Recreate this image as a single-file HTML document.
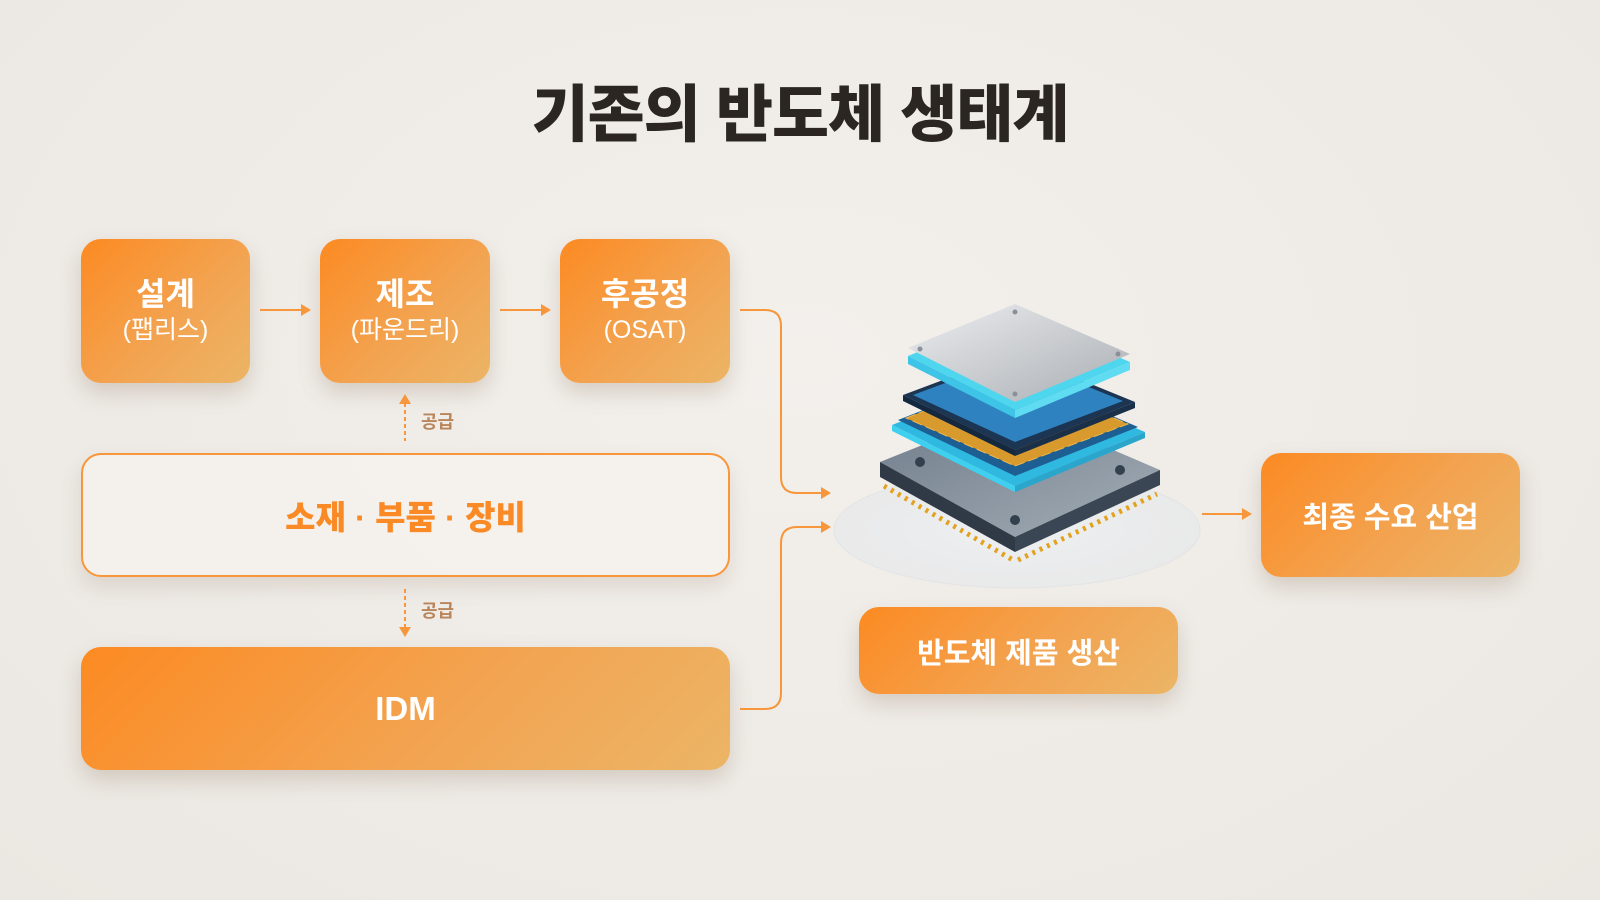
<!DOCTYPE html>
<html><head><meta charset="utf-8"><style>
body{margin:0;width:1600px;height:900px;overflow:hidden;background:radial-gradient(ellipse at 50% 40%,#f3f0ec,#ebe7e2);font-family:"Liberation Sans","Noto Sans CJK KR",sans-serif;position:relative}
.t{position:absolute;left:0;width:1600px;top:64px;text-align:center;font-size:62px;font-weight:900;color:#2b2622;letter-spacing:-1px}
.b{position:absolute;border-radius:20px;background:linear-gradient(135deg,#fc8a22 0%,#f3a350 55%,#ebb566 100%);color:#fff;display:flex;flex-direction:column;align-items:center;justify-content:center;box-shadow:0 10px 22px rgba(120,90,60,.22);font-weight:700}
.big{font-size:32px;line-height:38px}
.sm{font-size:25px;font-weight:400;line-height:34px}
.o{position:absolute;left:81px;top:453px;width:645px;height:120px;border:2px solid #f7963a;border-radius:20px;background:rgba(246,243,240,.7);display:flex;align-items:center;justify-content:center;color:#f98a25;font-size:33px;font-weight:800;box-shadow:0 10px 20px rgba(120,90,60,.15)}
.lbl{position:absolute;font-size:18px;color:#b9855a;font-weight:700}
</style></head><body>
<div class="t">기존의 반도체 생태계</div>
<div class="b" style="left:81px;top:239px;width:169px;height:144px"><div class="big">설계</div><div class="sm">(팹리스)</div></div>
<div class="b" style="left:320px;top:239px;width:170px;height:144px"><div class="big">제조</div><div class="sm">(파운드리)</div></div>
<div class="b" style="left:560px;top:239px;width:170px;height:144px"><div class="big">후공정</div><div class="sm">(OSAT)</div></div>
<div class="o">소재 · 부품 · 장비</div>
<div class="b" style="left:81px;top:647px;width:649px;height:123px;font-size:33px">IDM</div>
<div class="b" style="left:859px;top:607px;width:319px;height:87px;font-size:29px">반도체 제품 생산</div>
<div class="b" style="left:1261px;top:453px;width:259px;height:124px;font-size:29px">최종 수요 산업</div>
<div class="lbl" style="left:421px;top:408px">공급</div>
<div class="lbl" style="left:421px;top:597px">공급</div>
<svg width="1600" height="900" style="position:absolute;left:0;top:0" viewBox="0 0 1600 900">
<g stroke="#f7963a" stroke-width="2" fill="none">
<line x1="260" y1="310" x2="302" y2="310"/><line x1="500" y1="310" x2="542" y2="310"/>
<path d="M740 310 H765 Q781 310 781 326 V477 Q781 493 797 493 H822"/>
<path d="M740 709 H765 Q781 709 781 693 V543 Q781 527 797 527 H822"/>
<line x1="1202" y1="514" x2="1243" y2="514"/>
<line x1="405" y1="403" x2="405" y2="441" stroke-dasharray="4 3"/>
<line x1="405" y1="589" x2="405" y2="628" stroke-dasharray="4 3"/>
</g>
<g fill="#f7963a">
<path d="M301 304 L311 310 L301 316Z"/><path d="M541 304 L551 310 L541 316Z"/>
<path d="M821 487 L831 493 L821 499Z"/><path d="M821 521 L831 527 L821 533Z"/>
<path d="M1242 508 L1252 514 L1242 520Z"/>
<path d="M399 404 L405 394 L411 404Z"/><path d="M399 627 L405 637 L411 627Z"/>
</g>
<defs><radialGradient id="pl"><stop offset="0" stop-color="#eef0f3"/><stop offset="1" stop-color="#e6e8ea" stop-opacity=".7"/></radialGradient>
<linearGradient id="cap" x1="0" y1="0" x2="1" y2="1"><stop offset="0" stop-color="#eceef0"/><stop offset="1" stop-color="#a9adb2"/></linearGradient>
<linearGradient id="bs" x1="0" y1="0" x2="1" y2="1"><stop offset="0" stop-color="#6f7c8a"/><stop offset="1" stop-color="#a4adb6"/></linearGradient></defs>
<ellipse cx="1017" cy="530" rx="183" ry="58" fill="url(#pl)" stroke="#e2e4e6"/>
<!-- base -->
<path d="M880 462 L1015 408 L1160 470 L1015 537Z" fill="url(#bs)"/>
<path d="M880 462 L1015 537 L1015 552 L880 477Z" fill="#2f3a46"/>
<path d="M1015 537 L1160 470 L1160 485 L1015 552Z" fill="#3a4653"/>
<g stroke="#e2a21c" stroke-width="5" stroke-dasharray="3 5"><path d="M884 486 L1013 560"/><path d="M1018 560 L1157 494"/></g>
<g fill="#33414f"><circle cx="920" cy="462" r="5"/><circle cx="1015" cy="520" r="5"/><circle cx="1120" cy="470" r="5"/><circle cx="1015" cy="420" r="5"/></g>
<!-- blue glow layer -->
<path d="M892 425 L1015 376 L1145 432 L1015 486Z" fill="#2fb8e0"/>
<path d="M892 425 L1015 486 L1015 492 L892 431Z" fill="#3fd0f0"/>
<path d="M1015 486 L1145 432 L1145 438 L1015 492Z" fill="#2aa6cc"/>
<path d="M898 420 L1015 374 L1138 427 L1015 476Z" fill="#1d5f93"/>
<path d="M906 418 L1015 376 L1128 424 L1015 466Z" fill="#d89a2c" stroke="#f0b850" stroke-dasharray="10 4"/>
<!-- dark layer -->
<path d="M903 395 L1015 353 L1135 402 L1015 450Z" fill="#1c3552"/>
<path d="M903 395 L1015 450 L1015 456 L903 401Z" fill="#142840"/>
<path d="M1015 450 L1135 402 L1135 408 L1015 456Z" fill="#1a3048"/>
<path d="M913 395 L1015 357 L1123 401 L1015 442Z" fill="#2f82c0"/>
<!-- cap -->
<path d="M908 356 L1015 312 L1130 362 L1015 410Z" fill="#4fd6ef"/>
<path d="M908 356 L1015 410 L1015 418 L908 364Z" fill="#3ec4e6"/>
<path d="M1015 410 L1130 362 L1130 370 L1015 418Z" fill="#5fdcf2"/>
<path d="M908 348 L1015 304 L1130 354 L1015 402Z" fill="url(#cap)"/>
<g fill="#8a9098"><circle cx="1015" cy="312" r="2.5"/><circle cx="920" cy="349" r="2.5"/><circle cx="1118" cy="354" r="2.5"/><circle cx="1015" cy="394" r="2.5"/></g>
</svg>
</body></html>
